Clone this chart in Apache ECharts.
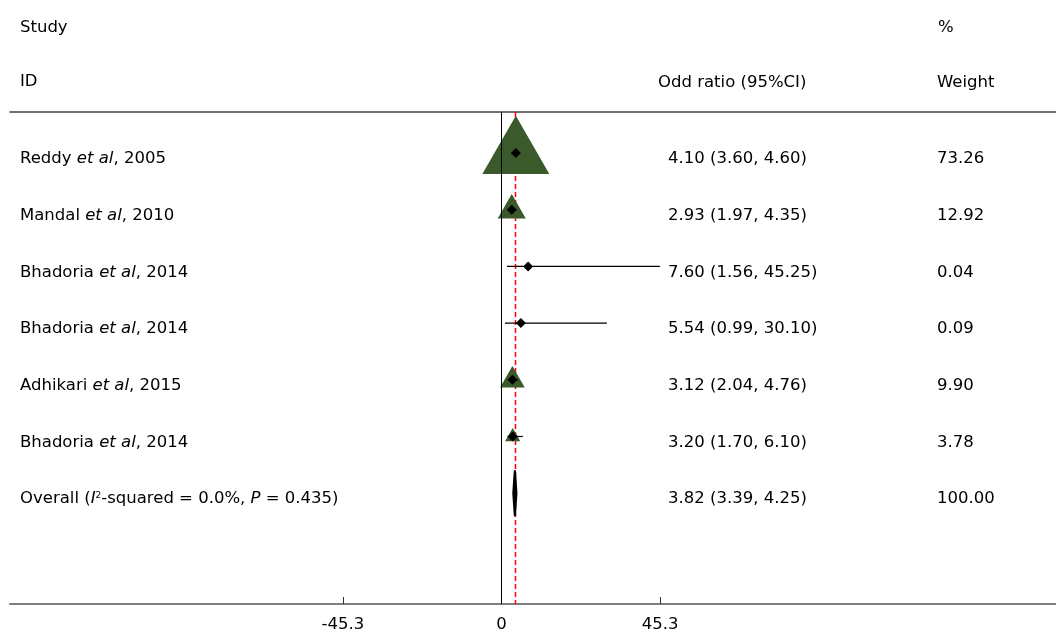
<!DOCTYPE html>
<html>
<head>
<meta charset="utf-8">
<script src="https://cdn.jsdelivr.net/npm/echarts@6/dist/echarts.min.js"></script>
<style>html,body{margin:0;padding:0;background:#fff}#c{width:1056px;height:633px}</style>
</head>
<body>
<div id="c"></div>
<script>
const studies = ['Reddy', 'Mandal', 'Bhadoria', 'Bhadoria', 'Adhikari', 'Bhadoria'];
const years = [2005, 2010, 2014, 2014, 2015, 2014];
const orValues = [4.10, 2.93, 7.60, 5.54, 3.12, 3.20];
const ciLow = [3.60, 1.97, 1.56, 0.99, 2.04, 1.70];
const ciHigh = [4.60, 4.35, 45.25, 30.10, 4.76, 6.10];
const weights = [73.26, 12.92, 0.04, 0.09, 9.90, 3.78];
const overallOR = 3.82;
const overallLow = 3.39;
const overallHigh = 4.25;
const overallWeight = 100.00;
const overallLabel = 'Overall ({i|I}{sup|2}-squared = 0.0%, {i|P} = 0.435)';
const xTickValues = [-45.3, 0, 45.3];
const nullValue = 0;

const FONT = 'DejaVu Sans';
const FS = 16.5;
const green = '#3a5a2b';
const rows = studies.map((s, i) => i + 1);
const overallRow = studies.length + 1;
const Y_MIN = 0.276, Y_MAX = 8.955;

const chart = echarts.init(document.getElementById('c'), null, {renderer: 'canvas'});

const triData = studies.map((s, i) => {
  const w = 7.83 * Math.sqrt(weights[i]);
  const h = w * 0.87;
  return {value: [orValues[i], rows[i]], symbolSize: [w, h], symbolOffset: [0, -h * 0.14]};
});

const rich = {
  it: {fontStyle: 'italic', fontFamily: FONT, fontSize: FS, color: '#000'},
  i: {fontStyle: 'italic', fontFamily: FONT, fontSize: FS, color: '#000'},
  sup: {fontFamily: FONT, fontSize: 9, color: '#000', verticalAlign: 'top', padding: [0, 0, 6, 0]}
};

const leftTexts = studies.map((s, i) => s + ' {it|et al}, ' + years[i]).concat([overallLabel]);
const estTexts = orValues.map((v, i) => v.toFixed(2) + ' (' + ciLow[i].toFixed(2) + ', ' + ciHigh[i].toFixed(2) + ')')
  .concat([overallOR.toFixed(2) + ' (' + overallLow.toFixed(2) + ', ' + overallHigh.toFixed(2) + ')']);
const wtTexts = weights.map(w => w.toFixed(2)).concat([overallWeight.toFixed(2)]);
const textRows = rows.concat([overallRow]);

function txt(x, y, text) {
  return {type: 'text', x: x, y: y, style: {text: text, fontFamily: FONT, fontSize: FS, fill: '#000', textVerticalAlign: 'middle', rich: rich}};
}

function vline(xVal, z, color, width, dash) {
  return {
    type: 'custom', z: z, data: [[xVal]], encode: {x: 0},
    itemStyle: {color: color},
    renderItem: (params, api) => {
      const a = api.coord([api.value(0), Y_MIN]);
      const b = api.coord([api.value(0), Y_MAX]);
      const x = Math.round(a[0]) + 0.5;
      const style = {stroke: color, lineWidth: width, fill: null};
      if (dash) style.lineDash = dash;
      return {type: 'line', shape: {x1: x, y1: a[1], x2: x, y2: b[1]}, style: style};
    }
  };
}

const option = {
  animation: false,
  grid: {left: 10, right: 0, top: 112, bottom: 26, containLabel: false},
  xAxis: [{
    type: 'value', min: -140.4, max: 158.4, position: 'bottom',
    axisLine: {show: true, lineStyle: {color: '#808080', width: 2}},
    axisTick: {show: true, inside: true, length: 7, customValues: xTickValues, lineStyle: {color: '#333', width: 1}},
    axisLabel: {show: true, customValues: xTickValues, margin: 12, color: '#000', fontFamily: FONT, fontSize: FS,
      formatter: v => String(v)},
    splitLine: {show: false}
  }, {
    type: 'value', min: -140.4, max: 158.4, position: 'top',
    axisLine: {show: true, lineStyle: {color: '#404040', width: 1.5}},
    axisTick: {show: false}, axisLabel: {show: false}, splitLine: {show: false}
  }],
  yAxis: {type: 'value', inverse: true, min: Y_MIN, max: Y_MAX, show: false},
  series: [
    vline(overallOR, 1, '#ff0000', 1.5, [5, 3]),
    {
      type: 'scatter', symbol: 'triangle', z: 2, data: triData,
      itemStyle: {color: green, opacity: 1}
    },
    vline(nullValue, 3, '#000000', 1, null),
    {
      type: 'custom', z: 4,
      data: studies.map((s, i) => [ciLow[i], ciHigh[i], rows[i]]),
      encode: {x: [0, 1], y: 2},
      renderItem: (params, api) => {
        const a = api.coord([api.value(0), api.value(2)]);
        const b = api.coord([api.value(1), api.value(2)]);
        return {type: 'line', shape: {x1: a[0], y1: a[1], x2: b[0], y2: b[1]}, style: {stroke: '#000', lineWidth: 1.2}};
      }
    },
    {
      type: 'scatter', symbol: 'diamond', symbolSize: 10, z: 5,
      data: studies.map((s, i) => [orValues[i], rows[i]]),
      itemStyle: {color: '#000', opacity: 1}
    },
    {
      type: 'custom', z: 5,
      data: [[overallLow, overallOR, overallHigh, overallRow]],
      encode: {x: [0, 2], y: 3},
      renderItem: (params, api) => {
        const r = api.value(3);
        const l = api.coord([api.value(0), r]);
        const c1 = api.coord([api.value(1), r - 0.39]);
        const h = api.coord([api.value(2), r]);
        const c2 = api.coord([api.value(1), r + 0.39]);
        return {type: 'polygon', shape: {points: [l, c1, h, c2]}, style: {fill: '#000', stroke: '#000', lineWidth: 2.2, lineJoin: 'round'}};
      }
    },
    {
      type: 'custom', z: 6,
      data: textRows.map((r, i) => [0, r]),
      encode: {x: 0, y: 1},
      renderItem: (params, api) => {
        const i = params.dataIndex;
        const y = api.coord([0, api.value(1)])[1] + 6;
        return {type: 'group', children: [
          txt(20, y, leftTexts[i]),
          txt(668, y, estTexts[i]),
          txt(937, y, wtTexts[i])
        ]};
      }
    }
  ],
  graphic: [
    txt(20, 28, 'Study'),
    txt(20, 82, 'ID'),
    txt(938, 28, '%'),
    txt(658, 83, 'Odd ratio (95%CI)'),
    txt(937, 83, 'Weight')
  ]
};
chart.setOption(option);
</script>
</body>
</html>
